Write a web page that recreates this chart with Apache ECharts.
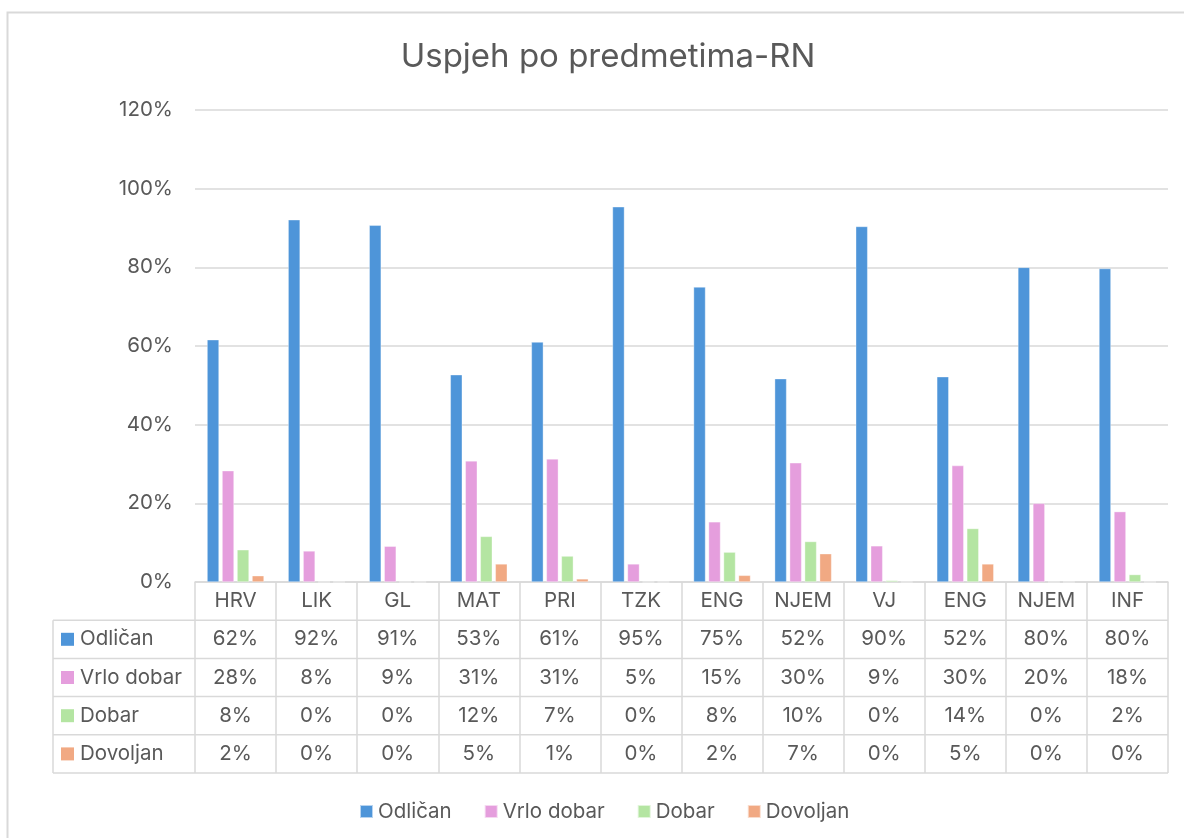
<!DOCTYPE html>
<html><head><meta charset="utf-8">
<script src="https://cdn.jsdelivr.net/npm/echarts@6/dist/echarts.min.js"></script>
<style>html,body{margin:0;padding:0;background:#fff}#c{width:1184px;height:838px}</style>
</head><body><div id="c"></div>
<script>
const chartTitle = 'Uspjeh po predmetima-RN';
const categories = ['HRV','LIK','GL','MAT','PRI','TZK','ENG','NJEM','VJ','ENG','NJEM','INF'];
const seriesNames = ['Odličan','Vrlo dobar','Dobar','Dovoljan'];
const odlican   = [61.6, 92.1, 90.7, 52.7, 61.0, 95.4, 75.0, 51.7, 90.4, 52.2, 80.0, 79.7];
const vrloDobar = [28.3,  7.9,  9.1, 30.8, 31.3,  4.6, 15.3, 30.3,  9.2, 29.6, 20.0, 17.9];
const dobar     = [ 8.2,  0,    0,   11.6,  6.6,  0,    7.6, 10.3,  0.4, 13.6,  0,    1.9];
const dovoljan  = [ 1.6,  0,    0,    4.6,  0.8,  0,    1.7,  7.2,  0,    4.6,  0,    0  ];
const yMin = 0, yMax = 120, yInterval = 20;

const seriesData = [odlican, vrloDobar, dobar, dovoljan];
const colors = ['#4E95D9','#E59EDD','#B4E5A2','#F1A983'];
const FONT = 'Inter, "Noto Sans", sans-serif';
const TXT = '#595959';
const LINE = '#D9D9D9';
const FS = 20.5;

const chart = echarts.init(document.getElementById('c'), null, {renderer:'canvas'});
const gridTop = 110, gridBottomY = 582, gridLeft = 195, gridRight = 16;
const rowH = 38.2;

chart.setOption({
  animation: false,
  backgroundColor: '#fff',
  title: {
    text: chartTitle, left: 603, textAlign: 'center', top: 36,
    textStyle: {fontFamily: FONT, fontSize: 33, fontWeight: 'normal', color: TXT}
  },
  legend: {
    data: seriesNames, top: 796, left: 354,
    icon: 'rect', itemWidth: 13, itemHeight: 13, itemGap: 32,
    textStyle: {fontFamily: FONT, fontSize: FS, color: TXT}
  },
  grid: {left: gridLeft, right: gridRight, top: gridTop, bottom: 838 - gridBottomY, containLabel: false},
  xAxis: {
    type: 'category', data: categories,
    axisLine: {show: true, lineStyle: {color: LINE, width: 1.5}},
    axisTick: {show: true, length: rowH * 5, lineStyle: {color: LINE, width: 1.5}},
    axisLabel: {margin: 0, lineHeight: rowH, fontFamily: FONT, fontSize: FS, color: TXT, interval: 0}
  },
  yAxis: {
    type: 'value', min: yMin, max: yMax, interval: yInterval,
    axisLine: {show: false}, axisTick: {show: false},
    axisLabel: {formatter: '{value}%', margin: 22, fontFamily: FONT, fontSize: FS, color: TXT},
    splitLine: {lineStyle: {color: LINE, width: 1.5}}
  },
  series: seriesNames.map((n, i) => ({
    name: n, type: 'bar', data: seriesData[i],
    barWidth: 12, barGap: '25%',
    itemStyle: {color: colors[i], borderColor: 'rgba(255,255,255,0.6)', borderWidth: 0.6}
  }))
});

// Build data table from axis positions
const x0 = chart.convertToPixel({xAxisIndex: 0}, 0);
const x1 = chart.convertToPixel({xAxisIndex: 0}, 1);
const colW = x1 - x0;
const y0 = chart.convertToPixel({yAxisIndex: 0}, 0);
const rightEdge = chart.convertToPixel({xAxisIndex: 0}, categories.length - 1) + colW / 2;
const labelLeft = 53;
const g = [];
g.push({type: 'rect', silent: true, z: -10, shape: {x: 7.5, y: 12.5, width: 1300, height: 1000},
  style: {fill: null, stroke: LINE, lineWidth: 2}});
for (let r = 1; r <= 5; r++) {
  const y = y0 + rowH * r;
  g.push({type: 'line', silent: true, shape: {x1: labelLeft, y1: y, x2: rightEdge, y2: y},
    style: {stroke: LINE, lineWidth: 1.5}});
}
g.push({type: 'line', silent: true, shape: {x1: labelLeft, y1: y0 + rowH, x2: labelLeft, y2: y0 + rowH * 5},
  style: {stroke: LINE, lineWidth: 1.5}});
seriesNames.forEach((n, r) => {
  const cy = y0 + rowH * (r + 1) + rowH / 2;
  g.push({type: 'rect', silent: true, shape: {x: 61, y: cy - 6.5, width: 13, height: 13}, style: {fill: colors[r]}});
  g.push({type: 'text', silent: true, x: 80, y: cy,
    style: {text: n, fontFamily: FONT, fontSize: FS, fill: TXT, align: 'left', verticalAlign: 'middle'}});
  seriesData[r].forEach((v, c) => {
    const cx = chart.convertToPixel({xAxisIndex: 0}, c);
    g.push({type: 'text', silent: true, x: cx, y: cy,
      style: {text: Math.round(v) + '%', fontFamily: FONT, fontSize: FS, fill: TXT, align: 'center', verticalAlign: 'middle'}});
  });
});
chart.setOption({graphic: g});
</script></body></html>
